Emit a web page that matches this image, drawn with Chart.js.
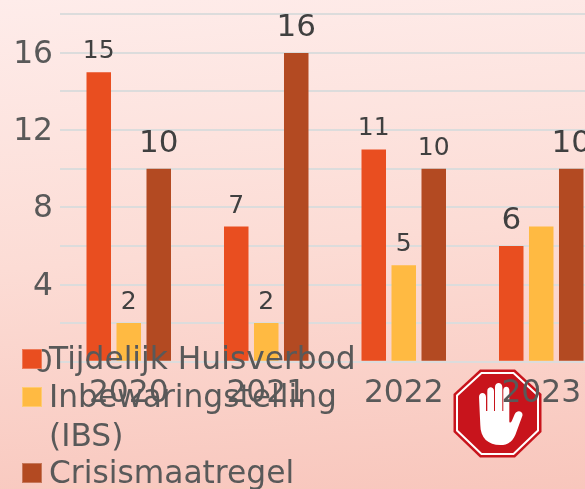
<!DOCTYPE html>
<html><head><meta charset="utf-8">
<script src="https://cdn.jsdelivr.net/npm/chart.js@4"></script>
<style>
html,body{margin:0;padding:0}
#stage{position:relative;width:585px;height:489px;overflow:hidden;background:linear-gradient(175deg,#feeceA 0%,#fcdcd5 50%,#f8c6bc 100%);font-family:"DejaVu Sans",sans-serif}
#stop{position:absolute;left:453px;top:369px;width:89px;height:89px}
#wrap{position:absolute;left:0;top:0;width:640px;height:489px}
.sw{position:absolute;left:22px;width:18px;height:18px;border:1px solid rgba(255,255,255,.25)}
.lt{position:absolute;left:49px;font-size:31.3px;line-height:38px;color:#595959;white-space:nowrap}
</style></head><body>
<div id="stage">
<svg id="stop" viewBox="0 0 89 89">
<polygon points="27,0.5 62,0.5 88.5,25 88.5,63 62,88.5 27,88.5 0.5,63 0.5,25" fill="#c8141c"/>
<polygon points="28.5,4 60.5,4 85,26.5 85,61.5 60.5,85 28.5,85 4,61.5 4,26.5" fill="none" stroke="#fff" stroke-width="2"/>
<path d="M26 28c0-5.500 7-5.500 7 0V42h1.300V22c0-5 6.700-5 6.700 0V42h1V18c0-5.500 7.300-5.500 7.300 0V42h1V21c0-4.500 6-4.500 6 0V52c0 2 1.500 2 2.500 0l3-7c2.500-5 9-2.500 7.500 2l-7 19c-3 7-8 10-15 10c-12 0-20-7-20-20z" fill="#fff"/>
</svg>
<div id="wrap"><canvas id="c" width="640" height="489"></canvas></div>
<div id="legend"></div>
</div>
<script>
const categories=["2020","2021","2022","2023"];
const seriesNames=["Tijdelijk Huisverbod","Inbewaringstelling","Crisismaatregel"];
const huisverbod=[15,7,11,6];
const ibs=[2,2,5,7];
const crisis=[10,16,10,10];
const colors=["#e94e20","#ffba42","#b34a22"];
const labelSizes=[[25,25,25,31],[25,25,25,null],[31,31,25,31]];
const legendRows=[
 {i:0,sw:349,tx:339,text:"Tijdelijk Huisverbod"},
 {i:1,sw:387,tx:377,text:"Inbewaringstelling"},
 {i:null,sw:0,tx:416,text:"(IBS)"},
 {i:2,sw:463,tx:453,text:"Crisismaatregel"}];
const lg=document.getElementById('legend');
legendRows.forEach(r=>{
 if(r.i!==null){const s=document.createElement('div');s.className='sw';s.style.top=r.sw+'px';s.style.background=colors[r.i];lg.appendChild(s);}
 const t=document.createElement('div');t.className='lt';t.style.top=r.tx+'px';t.textContent=r.text;lg.appendChild(t);
});
const labelPlugin={id:'labels',afterDatasetsDraw(ch){
 const x=ch.ctx;x.save();x.textAlign='center';x.textBaseline='alphabetic';x.fillStyle='#404040';
 ch.data.datasets.forEach((d,di)=>{ch.getDatasetMeta(di).data.forEach((b,i)=>{
  const fs=labelSizes[di][i];if(!fs)return;
  x.font=fs+'px "DejaVu Sans"';
  x.fillText(d.data[i],b.x,b.y-(fs>=30?17:14));
 });});x.restore();}};
new Chart(document.getElementById('c'),{
 type:'bar',
 data:{labels:categories,datasets:[huisverbod,ibs,crisis].map((v,i)=>({label:seriesNames[i],data:v,backgroundColor:colors[i],categoryPercentage:0.6545,barPercentage:0.817}))},
 options:{responsive:false,animation:false,
  layout:{padding:{top:14.3,right:30,left:0,bottom:0}},
  plugins:{legend:{display:false},tooltip:{enabled:false}},
  scales:{
   x:{grid:{display:false},border:{display:false},
      afterFit(s){s.height=127.3;s.paddingLeft=0;s.paddingRight=0;},
      ticks:{color:'#595959',padding:5,maxRotation:0,font:{size:31.3,family:'"DejaVu Sans"'}}},
   y:{min:0,max:18,grid:{color:'#dcdcdc',lineWidth:2,drawTicks:false},border:{display:false},
      afterFit(s){s.width=60;s.paddingTop=0;s.paddingBottom=0;},
      ticks:{stepSize:2,padding:7,labelOffset:2,color:'#595959',autoSkip:false,font:{size:31.3,family:'"DejaVu Sans"'},
        callback:v=>v%4===0?String(v):''}}
  }},
 plugins:[labelPlugin]
});
</script>
</body></html>
